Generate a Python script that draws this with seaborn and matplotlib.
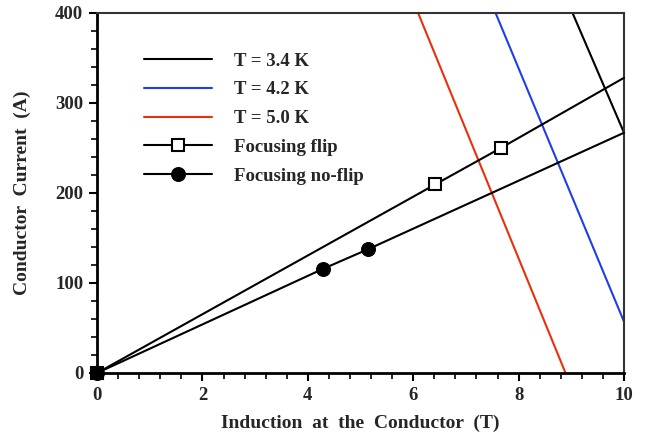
import matplotlib
matplotlib.use("Agg")
import matplotlib.pyplot as plt
from matplotlib.ticker import MultipleLocator
import seaborn as sns
import pandas as pd

# --- data ---
t34_x = [9.02, 10.0]
t34_y = [400.0, 266.7]
t42_x = [7.56, 10.0]
t42_y = [400.0, 56.9]
t50_x = [6.09, 8.89]
t50_y = [400.0, 0.0]

flip_x = [0.0, 6.42, 7.67, 10.0]
flip_y = [0.0, 209.4, 250.0, 327.7]
noflip_x = [0.0, 4.28, 5.15, 10.0]
noflip_y = [0.0, 115.4, 137.6, 266.7]

labels = ["T = 3.4 K", "T = 4.2 K", "T = 5.0 K", "Focusing flip", "Focusing no-flip"]
x_label = "Induction  at  the  Conductor  (T)"
y_label = "Conductor  Current  (A)"

sns.set_theme(style="white")
plt.rcParams["font.family"] = ["Liberation Serif", "DejaVu Serif"]
plt.rcParams["font.weight"] = "bold"

fig = plt.figure(figsize=(6.47, 4.36), dpi=100)
ax = fig.add_axes([0.150, 0.1445, 0.8145, 0.8265])

def df(x, y):
    return pd.DataFrame({"x": x, "y": y})

sns.lineplot(data=df(t34_x, t34_y), x="x", y="y", ax=ax, color="black", lw=1.5,
             label=labels[0], sort=False, estimator=None)
sns.lineplot(data=df(t42_x, t42_y), x="x", y="y", ax=ax, color="#1f3fe6", lw=1.5,
             label=labels[1], sort=False, estimator=None)
sns.lineplot(data=df(t50_x, t50_y), x="x", y="y", ax=ax, color="#e8300c", lw=1.5,
             label=labels[2], sort=False, estimator=None)
sns.lineplot(data=df(flip_x, flip_y), x="x", y="y", ax=ax, color="black", lw=1.5,
             marker="s", markersize=9, markerfacecolor="white", markeredgecolor="black",
             markeredgewidth=1.5, markevery=[0, 1, 2], label=labels[3], sort=False,
             estimator=None, clip_on=False, zorder=5)
sns.lineplot(data=df(noflip_x, noflip_y), x="x", y="y", ax=ax, color="black", lw=1.5,
             marker="o", markersize=10, markerfacecolor="black", markeredgecolor="black",
             markevery=[0, 1, 2], label=labels[4], sort=False, estimator=None,
             clip_on=False, zorder=5)

ax.set_xlim(0, 10)
ax.set_ylim(0, 400)
ax.xaxis.set_major_locator(MultipleLocator(2))
ax.xaxis.set_minor_locator(MultipleLocator(0.4))
ax.yaxis.set_major_locator(MultipleLocator(100))
ax.yaxis.set_minor_locator(MultipleLocator(20))
ax.tick_params(which="major", direction="out", length=6, width=1.5, color="black",
               labelsize=13.5, bottom=True, left=True, pad=4)
ax.tick_params(which="minor", direction="out", length=4, width=1.2, color="black",
               bottom=True, left=True)
for lab in ax.get_xticklabels() + ax.get_yticklabels():
    lab.set_fontweight("bold")

for s in ["left", "bottom"]:
    ax.spines[s].set_linewidth(2.0)
    ax.spines[s].set_color("black")
for s in ["top", "right"]:
    ax.spines[s].set_linewidth(1.5)
    ax.spines[s].set_color("#333333")

ax.set_xlabel(x_label, fontsize=14, fontweight="bold", labelpad=8)
ax.set_ylabel(y_label, fontsize=14, fontweight="bold", labelpad=17)

leg = ax.legend(loc="upper left", bbox_to_anchor=(0.058, 0.936), frameon=False,
                handlelength=3.6, handletextpad=1.2, labelspacing=0.62,
                prop={"weight": "bold", "size": 13.5})

fig.savefig("out.png", dpi=100)
